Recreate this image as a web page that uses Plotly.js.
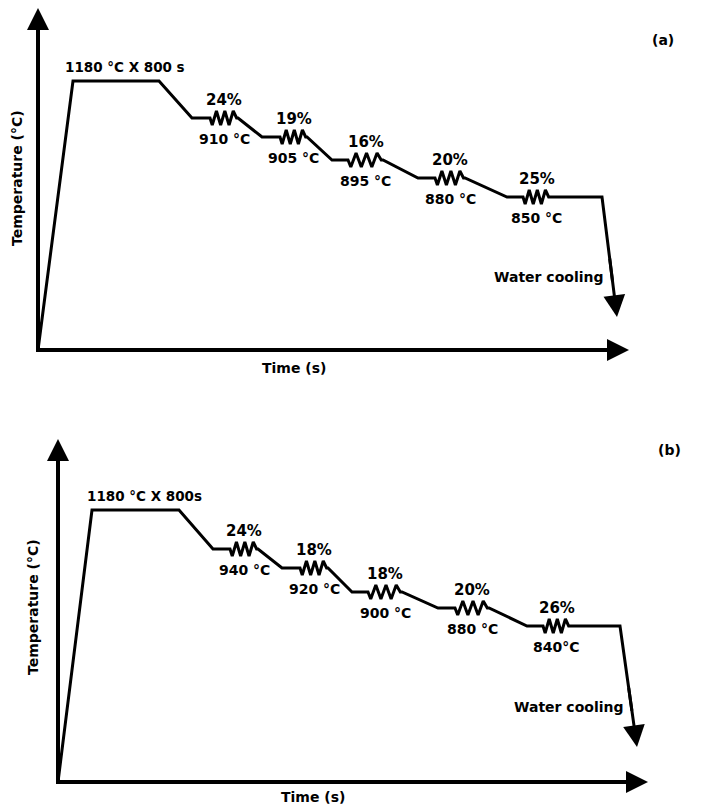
<!DOCTYPE html>
<html>
<head>
<meta charset="utf-8">
<script src="https://cdn.plot.ly/plotly-3.0.1.min.js"></script>
<style>
  html, body { margin: 0; padding: 0; background: #fff; }
  #chart { width: 702px; height: 805px; }
</style>
</head>
<body>
<div id="chart"></div>
<script>
// Thermo-mechanical schedules, drawn in schematic time / temperature units.

// ---- Schedule (a) ----
const aSoakTime   = [35, 121];          // reach soak temperature, leave soak
const aSoakLevel  = 269;
const aPassArrive = [154, 224, 294, 380, 469];
const aRollStart  = [172, 242, 310, 397, 485];
const aRollEnd    = [200, 269, 345, 427, 512];
const aPassLevel  = [232, 213, 190, 172, 153];
const aFinishTime = 564;
const aQuenchEnd  = [579, 33];
const aAxisEnd    = [591, 342];
const aSoakLabel  = '1180 °C X 800 s';
const aReduction  = ['24%', '19%', '16%', '20%', '25%'];
const aPassTemp   = ['910 °C', '905 °C', '895 °C', '880 °C', '850 °C'];

// ---- Schedule (b) ----
const bSoakTime   = [34, 121];
const bSoakLevel  = 272;
const bPassArrive = [155, 224, 294, 380, 469];
const bRollStart  = [172, 242, 310, 397, 485];
const bRollEnd    = [200, 270, 344, 431, 512];
const bPassLevel  = [233, 214, 190, 174, 156];
const bFinishTime = 562;
const bQuenchEnd  = [579, 35];
const bAxisEnd    = [590, 343];
const bSoakLabel  = '1180 °C X 800s';
const bReduction  = ['24%', '18%', '18%', '20%', '26%'];
const bPassTemp   = ['940 °C', '920 °C', '900 °C', '880 °C', '840°C'];

const axisTitleX = 'Time (s)';
const axisTitleY = 'Temperature (°C)';
const quenchLabel = 'Water cooling';

// Resistor-style glyph marking a rolling pass (fraction of pass width, vertical offset)
const ROLL_GLYPH = [[0, 0], [0.08, -7], [0.23, 7], [0.38, -7], [0.53, 7], [0.68, -7], [0.83, 7], [0.95, 0], [1, 0]];

const FONT = { family: 'DejaVu Sans, Verdana, sans-serif', size: 14, color: '#000', weight: 'bold' };
const INK = '#000';

function schedulePath(s) {
  const x = [0, s.soakTime[0], s.soakTime[1]];
  const y = [0, s.soakLevel, s.soakLevel];
  for (let i = 0; i < s.arrive.length; i++) {
    x.push(s.arrive[i]); y.push(s.level[i]);
    const w = s.rollEnd[i] - s.rollStart[i];
    ROLL_GLYPH.forEach(([f, d]) => { x.push(s.rollStart[i] + f * w); y.push(s.level[i] + d); });
  }
  const last = s.level[s.level.length - 1];
  x.push(s.finish); y.push(last);
  // the rest of the quench line is carried by the arrow annotation
  x.push(s.finish + 0.7 * (s.quench[0] - s.finish));
  y.push(last + 0.7 * (s.quench[1] - last));
  return { x, y };
}

function axisPath(end) {
  return { x: [0.8 * end[0], 0, 0], y: [0, 0, 0.8 * end[1]] };
}

function arrow(xr, yr, tail, tip, width, size) {
  return {
    xref: xr, yref: yr, axref: xr, ayref: yr,
    x: tip[0], y: tip[1], ax: tail[0], ay: tail[1],
    text: '', showarrow: true, arrowhead: 2,
    arrowwidth: width, arrowsize: size, arrowcolor: INK
  };
}

function label(xr, yr, x, y, text, extra) {
  return Object.assign({ xref: xr, yref: yr, x, y, text, showarrow: false, font: FONT,
    xanchor: 'center', yanchor: 'middle' }, extra || {});
}

function panelAnnotations(xr, yr, s, axisEnd) {
  const out = [];
  // axis arrow heads
  out.push(arrow(xr, yr, [0, 0.7 * axisEnd[1]], [0, axisEnd[1]], 4, 1.1));
  out.push(arrow(xr, yr, [0.7 * axisEnd[0], 0], [axisEnd[0], 0], 4, 1.1));
  // quench arrow
  const last = s.level[s.level.length - 1];
  out.push(arrow(xr, yr, [s.finish + 0.5 * (s.quench[0] - s.finish), last + 0.5 * (s.quench[1] - last)], s.quench, 3, 1.45));
  // soak label
  out.push(label(xr, yr, (s.soakTime[0] + s.soakTime[1]) / 2 + 9, s.soakLevel + 14, s.soakLabel, { font: Object.assign({}, FONT, { size: 13.5 }) }));
  // pass labels
  for (let i = 0; i < s.arrive.length; i++) {
    const cx = (s.rollStart[i] + s.rollEnd[i]) / 2;
    out.push(label(xr, yr, cx, s.level[i] + 18, s.reduction[i], { font: Object.assign({}, FONT, { size: 15 }) }));
    out.push(label(xr, yr, cx, s.level[i] - 21, s.temp[i]));
  }
  out.push(label(xr, yr, s.quench[0] - 69, s.quench[1] + 40, quenchLabel));
  return out;
}

const schedA = { soakTime: aSoakTime, soakLevel: aSoakLevel, arrive: aPassArrive, rollStart: aRollStart,
  rollEnd: aRollEnd, level: aPassLevel, finish: aFinishTime, quench: aQuenchEnd,
  soakLabel: aSoakLabel, reduction: aReduction, temp: aPassTemp };
const schedB = { soakTime: bSoakTime, soakLevel: bSoakLevel, arrive: bPassArrive, rollStart: bRollStart,
  rollEnd: bRollEnd, level: bPassLevel, finish: bFinishTime, quench: bQuenchEnd,
  soakLabel: bSoakLabel, reduction: bReduction, temp: bPassTemp };

const pathA = schedulePath(schedA), pathB = schedulePath(schedB);
const axA = axisPath(aAxisEnd), axB = axisPath(bAxisEnd);

const traces = [
  { x: axA.x, y: axA.y, xaxis: 'x', yaxis: 'y', mode: 'lines', line: { color: INK, width: 4 }, hoverinfo: 'skip', cliponaxis: false },
  { x: pathA.x, y: pathA.y, xaxis: 'x', yaxis: 'y', mode: 'lines', line: { color: INK, width: 3 }, hoverinfo: 'skip', cliponaxis: false },
  { x: axB.x, y: axB.y, xaxis: 'x2', yaxis: 'y2', mode: 'lines', line: { color: INK, width: 4 }, hoverinfo: 'skip', cliponaxis: false },
  { x: pathB.x, y: pathB.y, xaxis: 'x2', yaxis: 'y2', mode: 'lines', line: { color: INK, width: 3 }, hoverinfo: 'skip', cliponaxis: false }
];

const W = 702, H = 805;
const hidden = { showgrid: false, zeroline: false, showticklabels: false, ticks: '', showline: false, fixedrange: true };

function paperText(px, py, text, extra) {
  return Object.assign({ xref: 'paper', yref: 'paper', x: px / W, y: 1 - py / H, text, showarrow: false,
    font: FONT, xanchor: 'center', yanchor: 'middle' }, extra || {});
}

const annotations = []
  .concat(panelAnnotations('x', 'y', schedA, aAxisEnd))
  .concat(panelAnnotations('x2', 'y2', schedB, bAxisEnd))
  .concat([
    paperText(294, 368, axisTitleX),
    paperText(17, 178, axisTitleY, { textangle: -90 }),
    paperText(313, 797, axisTitleX),
    paperText(33, 607, axisTitleY, { textangle: -90 }),
    paperText(663, 40, '(a)'),
    paperText(669, 450, '(b)')
  ]);

const layout = {
  width: W, height: H,
  margin: { l: 0, r: 0, t: 0, b: 0 },
  paper_bgcolor: '#fff', plot_bgcolor: '#fff',
  showlegend: false,
  xaxis:  Object.assign({ domain: [18 / W, 638 / W], range: [-20, 600], anchor: 'y' }, hidden),
  yaxis:  Object.assign({ domain: [1 - 370 / H, 1], range: [-20, 350], anchor: 'x' }, hidden),
  xaxis2: Object.assign({ domain: [38 / W, 658 / W], range: [-20, 600], anchor: 'y2' }, hidden),
  yaxis2: Object.assign({ domain: [3 / H, 1 - 432 / H], range: [-20, 350], anchor: 'x2' }, hidden),
  annotations
};

Plotly.newPlot('chart', traces, layout, { displayModeBar: false, staticPlot: true });
</script>
</body>
</html>
